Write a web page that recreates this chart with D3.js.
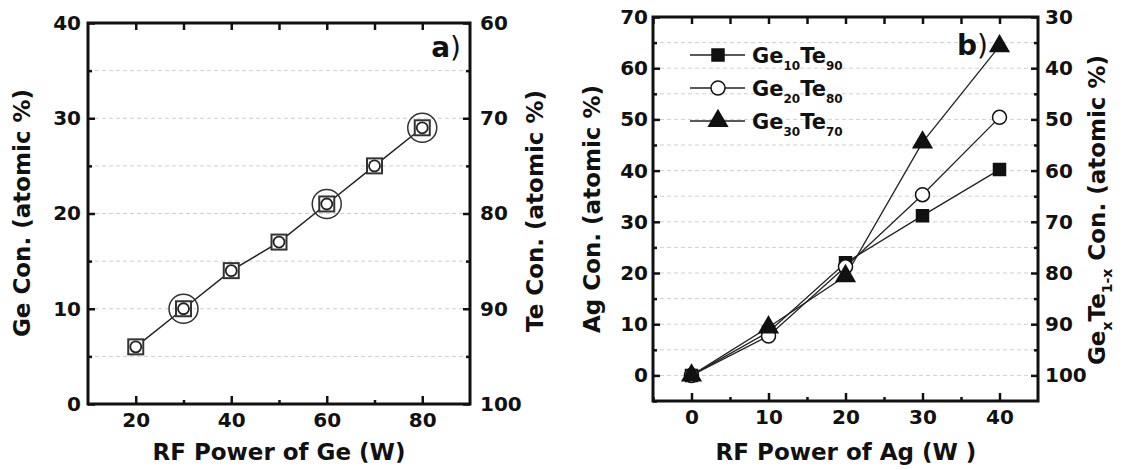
<!DOCTYPE html>
<html>
<head>
<meta charset="utf-8">
<script src="https://cdn.jsdelivr.net/npm/d3@7"></script>
<style>
  body { margin: 0; background: #fff; }
  svg { display: block; }
  text { font-family: "DejaVu Sans", sans-serif; font-weight: bold; fill: #111; }
  .tick text { font-size: 20px; }
  .grid line { stroke: #cfcfcf; stroke-width: 1; stroke-dasharray: 4,3; }
</style>
</head>
<body>
<svg width="1123" height="470"></svg>
<script>
// panel a) : Ge concentration vs RF power of Ge
const gePower = [20, 30, 40, 50, 60, 70, 80];
const geCon = [6, 10, 14, 17, 21, 25, 29];
const circledPower = [30, 60, 80];

// panel b) : Ag concentration vs RF power of Ag
const agPower = [0, 10, 20, 30, 40];
const ge10Te90 = [0, 8.5, 22, 31.2, 40.2];
const ge20Te80 = [0, 7.7, 21.2, 35.3, 50.4];
const ge30Te70 = [0, 9.4, 19.4, 45.5, 64.3];
const seriesNames = [["Ge", "10", "Te", "90"], ["Ge", "20", "Te", "80"], ["Ge", "30", "Te", "70"]];

const svg = d3.select("svg");

const MAJ = 7, MIN = 4;

// draws box, inward ticks, grid, labels for one panel
function frame(g, x, y, yR, opt) {
  const [x0, x1] = x.range(), [y0, y1] = y.range();

  g.append("g").attr("class", "grid")
    .selectAll("line").data(opt.grid).enter().append("line")
    .attr("x1", x0).attr("x2", x1)
    .attr("y1", d => y(d)).attr("y2", d => y(d));

  // bottom
  g.append("g").attr("transform", `translate(0,${y0})`)
    .call(d3.axisBottom(x).tickValues(opt.xMajor).tickSize(-8).tickPadding(opt.xPad));
  g.append("g").attr("transform", `translate(0,${y0})`)
    .call(d3.axisBottom(x).tickValues(opt.xMinor).tickSize(-MIN).tickFormat(""));
  // top
  g.append("g").attr("transform", `translate(0,${y1})`)
    .call(d3.axisTop(x).tickValues(opt.xMajor.concat(opt.xMinor)).tickSize(-MAJ).tickFormat(""));
  // left
  g.append("g").attr("transform", `translate(${x0},0)`)
    .call(d3.axisLeft(y).tickValues(opt.yMajor).tickSize(-MAJ).tickPadding(opt.yPadL));
  g.append("g").attr("transform", `translate(${x0},0)`)
    .call(d3.axisLeft(y).tickValues(opt.yMinor).tickSize(-MIN).tickFormat(""));
  // right
  g.append("g").attr("transform", `translate(${x1},0)`)
    .call(d3.axisRight(yR).tickValues(opt.rMajor).tickSize(-MAJ).tickPadding(opt.yPadR));
  g.append("g").attr("transform", `translate(${x1},0)`)
    .call(d3.axisRight(yR).tickValues(opt.rMinor).tickSize(-MIN).tickFormat(""));

  g.selectAll(".domain").remove();
  g.selectAll(".tick line").attr("stroke", "#111").attr("stroke-width", 2.5);
  g.selectAll(".tick text").attr("fill", "#111").attr("font-size", 20)
    .attr("font-family", "DejaVu Sans").attr("font-weight", "bold");

  g.append("rect")
    .attr("x", x0).attr("y", y1).attr("width", x1 - x0).attr("height", y0 - y1)
    .attr("fill", "none").attr("stroke", "#111").attr("stroke-width", 3);
}

// ---------- panel a ----------
const xa = d3.scaleLinear().domain([10, 90]).range([88, 470]);
const ya = d3.scaleLinear().domain([0, 40]).range([404, 23]);
const yaR = d3.scaleLinear().domain([100, 60]).range([404, 23]);
const ga = svg.append("g");

frame(ga, xa, ya, yaR, {
  grid: [5, 10, 15, 20, 25, 30, 35],
  xMajor: [20, 40, 60, 80], xMinor: [30, 50, 70],
  yMajor: [0, 10, 20, 30, 40], yMinor: [5, 15, 25, 35],
  rMajor: [60, 70, 80, 90, 100], rMinor: [65, 75, 85, 95],
  xPad: 9, yPadL: 7, yPadR: 10
});

const ptsA = gePower.map((p, i) => [p, geCon[i]]);
ga.append("path")
  .attr("d", d3.line().x(d => xa(d[0])).y(d => ya(d[1]))(ptsA))
  .attr("fill", "none").attr("stroke", "#222").attr("stroke-width", 1.5);

const ma = ga.selectAll(".ma").data(ptsA).enter().append("g")
  .attr("transform", d => `translate(${xa(d[0])},${ya(d[1])})`);
ma.append("rect").attr("x", -7.5).attr("y", -7.5).attr("width", 15).attr("height", 15)
  .attr("fill", "#fff").attr("stroke", "#333").attr("stroke-width", 2);
ma.append("circle").attr("r", 5.5).attr("fill", "#fff").attr("stroke", "#222").attr("stroke-width", 1.8);

ga.selectAll(".big").data(ptsA.filter(d => circledPower.includes(d[0]))).enter()
  .append("circle")
  .attr("cx", d => xa(d[0])).attr("cy", d => ya(d[1])).attr("r", 14.5)
  .attr("fill", "none").attr("stroke", "#333").attr("stroke-width", 1.5);

ga.append("text").attr("x", 461).attr("y", 57).attr("text-anchor", "end").attr("font-size", 28)
  .html('a<tspan font-weight="normal">)</tspan>');

ga.append("text").attr("x", 279).attr("y", 460).attr("text-anchor", "middle").attr("font-size", 23)
  .text("RF Power of Ge (W)");
ga.append("text").attr("transform", "translate(22,213) rotate(-90)").attr("dy", "0.36em")
  .attr("text-anchor", "middle").attr("font-size", 23).text("Ge Con. (atomic %)");
ga.append("text").attr("transform", "translate(535,211) rotate(-90)").attr("dy", "0.36em")
  .attr("text-anchor", "middle").attr("font-size", 23).text("Te Con. (atomic %)");

// ---------- panel b ----------
const xb = d3.scaleLinear().domain([-5, 45]).range([653, 1038]);
const yb = d3.scaleLinear().domain([-5, 70]).range([401, 17]);
const ybR = d3.scaleLinear().domain([105, 30]).range([401, 17]);
const gb = svg.append("g");

frame(gb, xb, yb, ybR, {
  grid: d3.range(0, 70, 5),
  xMajor: [0, 10, 20, 30, 40], xMinor: [-5, 5, 15, 25, 35],
  yMajor: [0, 10, 20, 30, 40, 50, 60, 70], yMinor: [-5, 5, 15, 25, 35, 45, 55, 65],
  rMajor: [30, 40, 50, 60, 70, 80, 90, 100], rMinor: [35, 45, 55, 65, 75, 85, 95],
  xPad: 9, yPadL: 5, yPadR: 7
});

const symSquare = d3.symbol(d3.symbolSquare, 144)();
const symCircle = d3.symbol(d3.symbolCircle, 154)();
const symTri = d3.symbol(d3.symbolTriangle, 150)();
const seriesB = [
  { vals: ge10Te90, sym: symSquare, fill: "#111" },
  { vals: ge20Te80, sym: symCircle, fill: "#fff" },
  { vals: ge30Te70, sym: symTri, fill: "#111" }
];

const lineB = d3.line().x((d, i) => xb(agPower[i])).y(d => yb(d));
seriesB.forEach(s => {
  gb.append("path").attr("d", lineB(s.vals))
    .attr("fill", "none").attr("stroke", "#222").attr("stroke-width", 1.3);
});
seriesB.forEach(s => {
  gb.selectAll(null).data(s.vals).enter().append("path")
    .attr("d", s.sym)
    .attr("transform", (d, i) => `translate(${xb(agPower[i])},${yb(d)})`)
    .attr("fill", s.fill).attr("stroke", "#111").attr("stroke-width", 1.5);
});

// legend
const leg = gb.append("g");
seriesB.forEach((s, i) => {
  const cy = 55 + i * 33;
  leg.append("line").attr("x1", 690).attr("x2", 745).attr("y1", cy).attr("y2", cy)
    .attr("stroke", "#222").attr("stroke-width", 1.3);
  leg.append("path").attr("d", s.sym).attr("transform", `translate(718,${cy})`)
    .attr("fill", s.fill).attr("stroke", "#111").attr("stroke-width", 1.5);
  const n = seriesNames[i];
  leg.append("text").attr("x", 752).attr("y", cy + 8).attr("font-size", 21)
    .html(`${n[0]}<tspan font-size="12" dy="7">${n[1]}</tspan><tspan dy="-7">${n[2]}</tspan><tspan font-size="12" dy="7">${n[3]}</tspan>`);
});

gb.append("text").attr("x", 988).attr("y", 55).attr("text-anchor", "end").attr("font-size", 28)
  .html('b<tspan font-weight="normal">)</tspan>');

gb.append("text").attr("x", 846).attr("y", 460).attr("text-anchor", "middle").attr("font-size", 23)
  .text("RF Power of Ag (W )");
gb.append("text").attr("transform", "translate(592,209) rotate(-90)").attr("dy", "0.36em")
  .attr("text-anchor", "middle").attr("font-size", 23).text("Ag Con. (atomic %)");
gb.append("text").attr("transform", "translate(1097,210) rotate(-90)").attr("dy", "0.36em")
  .attr("text-anchor", "middle").attr("font-size", 23)
  .html('Ge<tspan font-size="14" dy="7">x</tspan><tspan dy="-7">Te</tspan><tspan font-size="14" dy="7">1-x</tspan><tspan dy="-7"> Con. (atomic %)</tspan>');
</script>
</body>
</html>
